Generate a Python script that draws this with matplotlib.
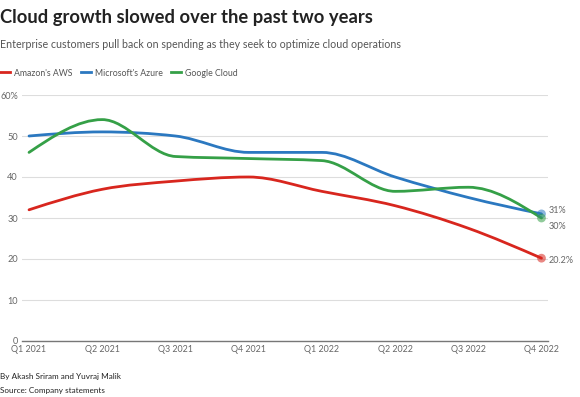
import numpy as np
import matplotlib
matplotlib.use('Agg')
import matplotlib.pyplot as plt
from matplotlib.path import Path
from matplotlib.patches import PathPatch
from matplotlib.lines import Line2D

quarters = ['Q1 2021', 'Q2 2021', 'Q3 2021', 'Q4 2021',
            'Q1 2022', 'Q2 2022', 'Q3 2022', 'Q4 2022']
aws = [32, 37, 39, 40, 36.5, 33, 27.5, 20.2]
azure = [50, 51, 50, 46, 46, 40, 35, 31]
google = [46, 54, 45, 44.5, 44, 36.5, 37.5, 30]
end_labels = ['20.2%', '31%', '30%']

names = ["Amazon's AWS", "Microsoft's Azure", "Google Cloud"]
colors = ['#d8261e', '#2b78c0', '#35a047']

plt.rcParams['font.family'] = ['Lato', 'DejaVu Sans']

W, H = 580, 397
fig = plt.figure(figsize=(W / 100, H / 100), dpi=100)


def fx(px):
    return px / W


def fy(py):
    return 1 - py / H


ax = fig.add_axes([fx(22), fy(341), fx(548) - fx(22), fy(95) - fy(341)])


def monotone_path(xs, ys):
    # d3 curveMonotoneX style bezier path through the data points
    xs = np.asarray(xs, float)
    ys = np.asarray(ys, float)
    n = len(xs)
    h = np.diff(xs)
    s = np.diff(ys) / h
    t = np.zeros(n)
    for i in range(1, n - 1):
        p = (s[i - 1] * h[i] + s[i] * h[i - 1]) / (h[i - 1] + h[i])
        t[i] = (np.sign(s[i - 1]) + np.sign(s[i])) * min(abs(s[i - 1]), abs(s[i]), 0.5 * abs(p))
    t[0] = (3 * s[0] - t[1]) / 2
    t[-1] = (3 * s[-1] - t[-2]) / 2
    verts = [(xs[0], ys[0])]
    codes = [Path.MOVETO]
    for i in range(n - 1):
        dx = (xs[i + 1] - xs[i]) / 3
        verts += [(xs[i] + dx, ys[i] + dx * t[i]),
                  (xs[i + 1] - dx, ys[i + 1] - dx * t[i + 1]),
                  (xs[i + 1], ys[i + 1])]
        codes += [Path.CURVE4] * 3
    return Path(verts, codes)


x = np.arange(len(quarters))
series = [aws, azure, google]
for vals, c in zip(series, colors):
    ax.add_patch(PathPatch(monotone_path(x, vals), fill=False, edgecolor=c,
                           lw=2, capstyle='round', joinstyle='round', zorder=3))
    ax.scatter([x[-1]], [vals[-1]], s=40, color=c, alpha=0.55,
               edgecolors='none', zorder=4)

# end labels
offsets = [-1.8, 2.2, -6.3]
for vals, lab, off in zip(series, end_labels, offsets):
    ax.annotate(lab, (x[-1], vals[-1]), xytext=(5, off), textcoords='offset points',
                ha='left', va='center', fontsize=6.5, color='#666666',
                annotation_clip=False)

ax.set_xlim(-0.096, 7.089)
ax.set_ylim(0, 60)
ax.set_yticks([0, 10, 20, 30, 40, 50, 60])
ax.set_yticklabels(['0', '10', '20', '30', '40', '50', '60%'])
ax.set_xticks(x)
ax.set_xticklabels(quarters)
ax.tick_params(axis='both', length=0, labelcolor='#666666')
ax.tick_params(axis='y', pad=3, labelsize=6.6)
ax.tick_params(axis='x', pad=3, labelsize=6.4)
ax.grid(axis='y', color='#dddddd', lw=0.8)
ax.set_axisbelow(True)
for sp in ['top', 'right', 'left']:
    ax.spines[sp].set_visible(False)
ax.spines['bottom'].set_color('#777777')
ax.spines['bottom'].set_linewidth(1)

# titles
fig.text(fx(0), fy(18), 'Cloud growth slowed over the past two years',
         fontsize=13.2, fontweight='bold', color='#222222', va='center', ha='left')
fig.text(fx(0), fy(44), 'Enterprise customers pull back on spending as they seek to optimize cloud operations',
         fontsize=7.7, color='#555555', va='center', ha='left')

# legend
handles = [Line2D([], [], color=c, lw=2) for c in colors]
fig.legend(handles, names, loc='center left', bbox_to_anchor=(fx(-8), fy(73)),
           ncol=3, frameon=False, fontsize=6.3, labelcolor='#555555',
           handlelength=1.2, handletextpad=0.45, columnspacing=0.9)

# footer
fig.text(fx(0), fy(377), 'By Akash Sriram and Yuvraj Malik',
         fontsize=5.9, color='#222222', va='center', ha='left')
fig.text(fx(0), fy(390), 'Source: Company statements',
         fontsize=5.9, color='#222222', va='center', ha='left')

fig.savefig('out.png', dpi=100)
